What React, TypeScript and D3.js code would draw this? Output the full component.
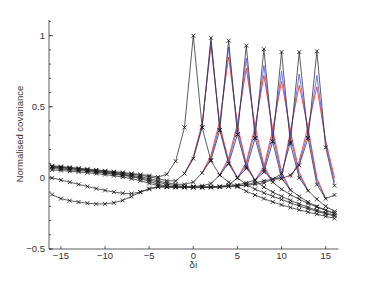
import * as d3 from "d3";

// lag positions (δi)
const lags = [-16, -15, -14, -13, -12, -11, -10, -9, -8, -7, -6, -5, -4, -3, -2, -1, 0,
  1, 2, 3, 4, 5, 6, 7, 8, 9, 10, 11, 12, 13, 14, 15, 16];

// lag where each black curve peaks
const peakLags = [0, 2, 4, 6, 8, 10, 12, 14];

// normalised covariance, one array per curve
const cov0 = [0.085, 0.08, 0.074, 0.068, 0.062, 0.056, 0.05, 0.044, 0.038, 0.031, 0.024, 0.016, 0.006, 0.025, 0.117, 0.355, 1.0,
  0.355, 0.12, 0.02, -0.03, -0.063, -0.094, -0.12, -0.146, -0.169, -0.19, -0.208, -0.225, -0.24, -0.255, -0.27, -0.285];
const cov2 = [0.08, 0.075, 0.07, 0.065, 0.058, 0.052, 0.046, 0.04, 0.033, 0.026, 0.018, 0.008, -0.005, -0.02, -0.022, 0.03, 0.135,
  0.355, 0.985, 0.335, 0.1, 0.0, -0.047, -0.08, -0.105, -0.13, -0.152, -0.175, -0.197, -0.217, -0.235, -0.252, -0.268];
const cov4 = [0.078, 0.073, 0.067, 0.061, 0.055, 0.048, 0.041, 0.034, 0.026, 0.018, 0.008, -0.005, -0.02, -0.035, -0.045, -0.045, -0.03,
  0.035, 0.125, 0.335, 0.965, 0.305, 0.075, -0.02, -0.065, -0.1, -0.13, -0.158, -0.183, -0.207, -0.228, -0.247, -0.262];
const cov6 = [0.075, 0.07, 0.065, 0.058, 0.052, 0.045, 0.038, 0.03, 0.022, 0.012, 0.0, -0.015, -0.03, -0.045, -0.055, -0.06, -0.06,
  -0.055, -0.04, 0.02, 0.1, 0.305, 0.93, 0.28, 0.054, -0.03, -0.08, -0.118, -0.15, -0.18, -0.205, -0.228, -0.248];
const cov8 = [0.066, 0.062, 0.057, 0.052, 0.046, 0.04, 0.033, 0.026, 0.018, 0.008, -0.006, -0.024, -0.045, -0.058, -0.063, -0.065, -0.065,
  -0.065, -0.063, -0.06, -0.05, 0.0, 0.066, 0.28, 0.905, 0.255, -0.005, -0.085, -0.13, -0.17, -0.2, -0.228, -0.25];
const cov10 = [0.0, -0.015, -0.03, -0.045, -0.06, -0.075, -0.088, -0.1, -0.108, -0.11, -0.1, -0.08, -0.065, -0.065, -0.066, -0.067, -0.068,
  -0.068, -0.067, -0.065, -0.06, -0.05, -0.035, -0.015, 0.04, 0.255, 0.885, 0.24, 0.0, -0.09, -0.15, -0.2, -0.235];
const cov12 = [0.056, 0.052, 0.047, 0.042, 0.036, 0.03, 0.023, 0.015, 0.006, -0.006, -0.02, -0.038, -0.054, -0.062, -0.065, -0.066, -0.067,
  -0.067, -0.066, -0.064, -0.061, -0.057, -0.052, -0.045, -0.035, -0.01, 0.03, 0.25, 0.885, 0.28, -0.047, -0.146, -0.12];
const cov14 = [-0.117, -0.146, -0.16, -0.17, -0.178, -0.183, -0.183, -0.175, -0.158, -0.13, -0.1, -0.075, -0.062, -0.062, -0.063, -0.064, -0.064,
  -0.064, -0.063, -0.062, -0.06, -0.055, -0.047, -0.035, -0.02, -0.01, -0.005, 0.019, 0.089, 0.28, 0.89, 0.214, -0.055];

const blackSeries = [cov0, cov2, cov4, cov6, cov8, cov10, cov12, cov14];

// coloured estimates only differ near the peaks: values from lag p-3 to p+3
const windowStart = -3;
const colouredPeaks = [2, 4, 6, 8, 10, 12, 14];
const redNearPeak = [
  [0.03, 0.15, 0.38, 0.93, 0.37, 0.12, 0.0],
  [0.035, 0.16, 0.4, 0.85, 0.37, 0.1, -0.02],
  [0.02, 0.14, 0.38, 0.77, 0.36, 0.09, -0.03],
  [0.0, 0.11, 0.36, 0.72, 0.34, 0.04, -0.085],
  [-0.015, 0.08, 0.34, 0.68, 0.33, 0.04, -0.09],
  [-0.01, 0.0, 0.33, 0.65, 0.35, 0.0, -0.146],
  [0.0, 0.12, 0.36, 0.64, 0.26, 0.0],
];
const blueNearPeak = [
  [0.03, 0.14, 0.365, 0.96, 0.35, 0.11, 0.0],
  [0.035, 0.14, 0.37, 0.92, 0.34, 0.09, -0.02],
  [0.02, 0.12, 0.35, 0.84, 0.32, 0.07, -0.03],
  [0.0, 0.09, 0.33, 0.79, 0.3, 0.02, -0.085],
  [-0.015, 0.06, 0.3, 0.75, 0.29, 0.02, -0.09],
  [-0.01, 0.01, 0.3, 0.73, 0.32, -0.02, -0.146],
  [0.01, 0.1, 0.32, 0.72, 0.24, -0.03],
];

const xTicks = [-15, -10, -5, 0, 5, 10, 15];
const yTicks = [-0.5, 0, 0.5, 1];

const width = 374;
const height = 281;
const left = 49;
const right = 338.5;
const top = 20;
const bottom = 249;

const font = "'Liberation Sans', Arial, sans-serif";

export default function App() {
  const x = d3.scaleLinear().domain([-16.35, 16.45]).range([left, right]);
  const y = d3.scaleLinear().domain([-0.5, 1.11]).range([bottom, top]);

  const line = d3
    .line<[number, number]>()
    .x((d) => x(d[0]))
    .y((d) => y(d[1]));

  const pts = (vals: number[]) => vals.map((v, i) => [lags[i], v] as [number, number]);
  const windowPts = (peak: number, vals: number[]) =>
    vals.map((v, i) => [peak + windowStart + i, v] as [number, number]);

  const fmt = d3.format("");
  const minor = y.ticks(16);

  const cross = "M-2,-2L2,2M-2,2L2,-2";

  return (
    <div style={{ position: "fixed", left: 0, top: 0 }}>
      <svg width={width} height={height} style={{ display: "block", background: "#fff" }}>
        {/* coloured estimates under the black ones */}
        {redNearPeak.map((vals, i) => (
          <path key={"r" + i} d={line(windowPts(colouredPeaks[i], vals)) || ""}
            fill="none" stroke="#ff2020" strokeWidth={1} strokeOpacity={0.8} />
        ))}
        {blueNearPeak.map((vals, i) => (
          <path key={"b" + i} d={line(windowPts(colouredPeaks[i], vals)) || ""}
            fill="none" stroke="#3a4aff" strokeWidth={1} strokeOpacity={0.75} />
        ))}

        {blackSeries.map((vals, i) => (
          <g key={"k" + peakLags[i]}>
            <path d={line(pts(vals)) || ""} fill="none" stroke="#333" strokeWidth={0.8} />
            {vals.map((v, j) => (
              <path key={j} d={cross} transform={`translate(${x(lags[j])},${y(v)})`}
                stroke="#111" strokeWidth={0.8} fill="none" />
            ))}
          </g>
        ))}

        {/* axes */}
        <g stroke="#333" strokeWidth={0.8} fill="none">
          <line x1={left} x2={left} y1={top} y2={bottom} />
          <line x1={left} x2={right} y1={bottom} y2={bottom} />
          {minor.map((t) => (
            <line key={"m" + t} x1={left} x2={left + 2} y1={y(t)} y2={y(t)} />
          ))}
          {yTicks.map((t) => (
            <line key={"y" + t} x1={left} x2={left + 4} y1={y(t)} y2={y(t)} />
          ))}
          {xTicks.map((t) => (
            <line key={"x" + t} x1={x(t)} x2={x(t)} y1={bottom} y2={bottom - 3} />
          ))}
        </g>

        <g fontFamily={font} fontSize={9.5} fill="#333">
          {yTicks.map((t) => (
            <text key={t} x={left - 4} y={y(t) + 3.3} textAnchor="end">{fmt(t)}</text>
          ))}
          {xTicks.map((t) => (
            <text key={t} x={x(t)} y={bottom + 9.5} textAnchor="middle">{fmt(t)}</text>
          ))}
          <text x={x(0)} y={268} textAnchor="middle">δi</text>
          <text transform="translate(23,134) rotate(-90)" textAnchor="middle">
            Normalised covariance
          </text>
        </g>
      </svg>
    </div>
  );
}
